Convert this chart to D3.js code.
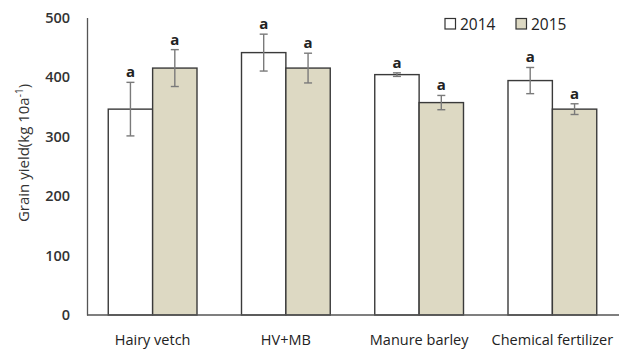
<!DOCTYPE html>
<html><head><meta charset="utf-8">
<script src="https://cdn.jsdelivr.net/npm/d3@7"></script>
<style>body{margin:0;background:#fff;} svg{display:block;font-family:"Open Sans","Noto Sans",sans-serif;}</style>
</head><body>
<svg id="c" width="628" height="350"></svg>
<script>
const categories = ["Hairy vetch", "HV+MB", "Manure barley", "Chemical fertilizer"];
const years = ["2014", "2015"];
const values2014 = [346, 441, 404, 394];
const values2015 = [415, 415, 357, 346];
const err2014 = [45, 31, 3, 22];
const err2015 = [31, 25, 12, 9];
const letters2014 = ["a", "a", "a", "a"];
const letters2015 = ["a", "a", "a", "a"];
const yTicks = [0, 100, 200, 300, 400, 500];

const fills = {"2014": "#ffffff", "2015": "#ddd9c3"};
const svg = d3.select("#c");
const y = d3.scaleLinear().domain([0, 500]).range([315, 17.5]);
const x0 = d3.scaleBand().domain(categories).range([86, 619]).padding(0);
const barW = x0.bandwidth() * 0.333;
const x1 = d3.scaleBand().domain(years).range([x0.bandwidth()/2 - barW, x0.bandwidth()/2 + barW]);

const data = [];
categories.forEach((c, i) => {
  data.push({c, yr: "2014", v: values2014[i], e: err2014[i], l: letters2014[i]});
  data.push({c, yr: "2015", v: values2015[i], e: err2015[i], l: letters2015[i]});
});

// bars
svg.append("g").selectAll("rect").data(data).join("rect")
  .attr("x", d => x0(d.c) + x1(d.yr))
  .attr("y", d => y(d.v))
  .attr("width", x1.bandwidth())
  .attr("height", d => y(0) - y(d.v))
  .attr("fill", d => fills[d.yr])
  .attr("stroke", "#3a3a3a").attr("stroke-width", 1.4);

// error bars
const eg = svg.append("g").attr("stroke", "#7a7a7a").attr("stroke-width", 1.4);
data.forEach(d => {
  const cx = x0(d.c) + x1(d.yr) + x1.bandwidth()/2;
  eg.append("line").attr("x1", cx).attr("x2", cx).attr("y1", y(d.v + d.e)).attr("y2", y(d.v - d.e));
  eg.append("line").attr("x1", cx-4).attr("x2", cx+4).attr("y1", y(d.v + d.e)).attr("y2", y(d.v + d.e));
  eg.append("line").attr("x1", cx-4).attr("x2", cx+4).attr("y1", y(d.v - d.e)).attr("y2", y(d.v - d.e));
});

// letters
svg.append("g").selectAll("text").data(data).join("text")
  .attr("x", d => x0(d.c) + x1(d.yr) + x1.bandwidth()/2)
  .attr("y", d => y(d.v + d.e) - 5)
  .attr("text-anchor", "middle").attr("font-size", 15).attr("font-weight", "bold")
  .attr("fill", "#222").text(d => d.l);

// y axis
const yAxis = d3.axisLeft(y).tickValues(yTicks).tickSize(0).tickPadding(17);
const ya = svg.append("g").attr("transform", "translate(87,0)").call(yAxis);
ya.select(".domain").attr("stroke", "#555").attr("stroke-width", 1.3);
ya.selectAll("text").attr("font-size", 14.5).attr("fill", "#333").attr("font-family", "'Open Sans',sans-serif").attr("font-weight", 600);

// x axis
const xAxis = d3.axisBottom(x0).tickSize(0).tickPadding(20);
const xa = svg.append("g").attr("transform", "translate(0,315)").call(xAxis);
xa.select(".domain").attr("stroke", "#555").attr("stroke-width", 1.3).attr("d", "M87,0H619");
xa.selectAll("text").attr("font-size", 14.5).attr("fill", "#222").attr("font-family", "'Open Sans',sans-serif");

// y title
const yt = svg.append("text").attr("transform", "translate(29,153) rotate(-90)")
  .attr("text-anchor", "middle").attr("font-size", 15).attr("fill", "#333");
yt.append("tspan").text("Grain yield(kg 10a");
yt.append("tspan").attr("font-size", 10).attr("dy", -6).text("-1");
yt.append("tspan").attr("dy", 6).text(")");

// legend
const lg = svg.append("g");
const lx = [445, 516];
years.forEach((yr, i) => {
  lg.append("rect").attr("x", lx[i]).attr("y", 18.5).attr("width", 10.5).attr("height", 10.5)
    .attr("fill", fills[yr]).attr("stroke", "#333").attr("stroke-width", 1.2);
  lg.append("text").attr("x", lx[i] + 15).attr("y", 29.5).attr("font-size", 15.5).attr("fill", "#222").text(yr);
});
</script>
</body></html>
